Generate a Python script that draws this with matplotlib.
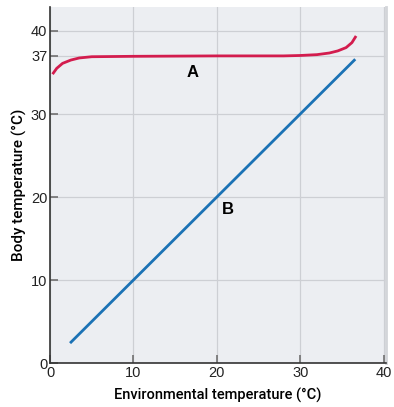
import matplotlib
matplotlib.use("Agg")
import matplotlib.pyplot as plt

plt.rcParams['font.family'] = ['Liberation Sans', 'DejaVu Sans']

# curve A: body temperature roughly constant
env_a = [0.3, 0.8, 1.5, 2.5, 3.5, 5, 10, 20, 28, 30, 32, 33.5, 34.5, 35.5, 36.2, 36.7]
body_a = [34.8, 35.5, 36.1, 36.5, 36.75, 36.9, 36.95, 37.0, 37.0, 37.05, 37.15, 37.35, 37.6, 38.0, 38.6, 39.4]

# curve B: body temperature follows environment
env_b = [2.4, 36.6]
body_b = [2.4, 36.6]

xticks = [0, 10, 20, 30, 40]
yticks = [0, 10, 20, 30, 37, 40]

fig = plt.figure(figsize=(3.94, 4.07), dpi=100)
ax = fig.add_axes([0.127, 0.108, 0.853, 0.875])
ax.set_facecolor('#eceef2')

ax.spines['top'].set_visible(False)
ax.spines['right'].set_color('#d3d5d9')
ax.spines['right'].set_linewidth(2)
for s in ['left', 'bottom']:
    ax.spines[s].set_color('#333333')
    ax.spines[s].set_linewidth(1.2)

ax.set_xlim(0, 40.3)
ax.set_ylim(0, 42.9)
ax.set_xticks(xticks)
ax.set_yticks(yticks)
ax.tick_params(direction='in', length=6, width=1.2, color='#707070',
               labelsize=10.5, pad=2, labelcolor='#222222')
ax.grid(True, color='#cdcfd4', linewidth=0.9)
ax.set_axisbelow(True)

ax.plot(env_a, body_a, color='#d31c4e', linewidth=2, solid_capstyle='butt')
ax.plot(env_b, body_b, color='#1b72b5', linewidth=2, solid_capstyle='butt')

ax.text(17.1, 35.0, 'A', fontsize=12, fontweight='bold', ha='center', va='center')
ax.text(21.3, 18.5, 'B', fontsize=12, fontweight='bold', ha='center', va='center')

ax.set_xlabel('Environmental temperature (°C)', fontsize=10.5, labelpad=6,
              fontweight='medium', family=['Roboto', 'Liberation Sans'])
ax.set_ylabel('Body temperature (°C)', fontsize=11, labelpad=3,
              fontweight='medium', family=['Roboto', 'Liberation Sans'])

fig.savefig('out.png', dpi=100)
